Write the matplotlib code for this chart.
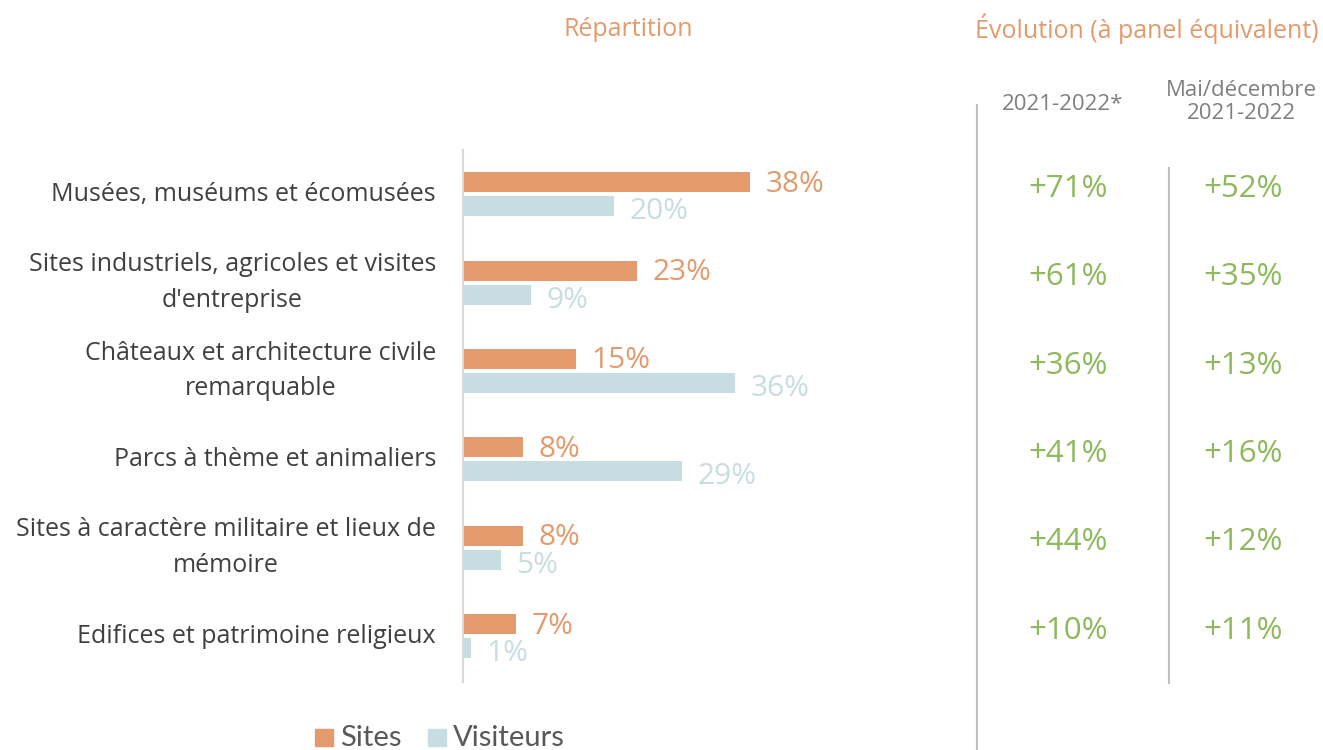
import matplotlib
matplotlib.use("Agg")
import matplotlib.pyplot as plt
from matplotlib.transforms import blended_transform_factory
from matplotlib.patches import Rectangle

categories = [
    "Musées, muséums et écomusées",
    "Sites industriels, agricoles et visites\nd'entreprise",
    "Châteaux et architecture civile\nremarquable",
    "Parcs à thème et animaliers",
    "Sites à caractère militaire et lieux de\nmémoire",
    "Edifices et patrimoine religieux",
]
sites = [38, 23, 15, 8, 8, 7]
visiteurs = [20, 9, 36, 29, 5, 1]
evol_2021_2022 = ["+71%", "+61%", "+36%", "+41%", "+44%", "+10%"]
evol_mai_dec = ["+52%", "+35%", "+13%", "+16%", "+12%", "+11%"]

ORANGE = "#E39A6C"
BLUE = "#C8DDE1"
GREEN = "#8DB95A"
GREY_TXT = "#404040"
GREY_HDR = "#7F7F7F"
LINE = "#BFBFBF"

plt.rcParams['font.family'] = ['Open Sans', 'DejaVu Sans']

W, H = 1323, 750
fig = plt.figure(figsize=(W / 100, H / 100), dpi=100)

def fx(px):
    return px / W

def fy(py):
    return 1 - py / H

ax = fig.add_axes([fx(463), fy(682), fx(960 - 463), (682 - 150) / H])
n = len(categories)
ypos = list(range(n))
bh = 0.226
off = 0.136
ax.barh([y - off for y in ypos], sites, height=bh, color=ORANGE, zorder=2)
ax.barh([y + off for y in ypos], visiteurs, height=bh, color=BLUE, zorder=2)
ax.set_xlim(0, 65.8)
ax.set_ylim(5.52, -0.5)

for y, v in zip(ypos, sites):
    ax.annotate(f"{v}%", (v, y - off), xytext=(11, -1.5), textcoords="offset points",
                ha="left", va="center", color=ORANGE, fontsize=21.5)
for y, v in zip(ypos, visiteurs):
    ax.annotate(f"{v}%", (v, y + off), xytext=(11, -4), textcoords="offset points",
                ha="left", va="center", color=BLUE, fontsize=21.5)

# Category labels
ax.set_yticks(ypos)
ax.set_yticklabels([])
ax.tick_params(axis="y", length=0)
for y, c in zip(ypos, categories):
    ax.annotate(c, (0, y), xytext=(-19.5, 0), textcoords="offset points",
                ha="right", va="center", multialignment="center", linespacing=1.55,
                fontsize=18, color=GREY_TXT, annotation_clip=False)
ax.set_xticks([])
for s in ["top", "right", "bottom"]:
    ax.spines[s].set_visible(False)
ax.spines["left"].set_color("#D9D9D9")
ax.spines["left"].set_linewidth(1.5)

# Titles
fig.text(fx(628), fy(29), "Répartition", ha="center", va="center", color=ORANGE, fontsize=18)
fig.text(fx(1147), fy(29), "Évolution (à panel équivalent)", ha="center", va="center",
         color=ORANGE, fontsize=18)
fig.text(fx(1063), fy(104), "2021-2022*", ha="center", va="center", color=GREY_HDR, fontsize=16)
fig.text(fx(1241), fy(102), "Mai/décembre\n2021-2022", ha="center", va="center",
         color=GREY_HDR, fontsize=16, linespacing=1.1)

# Evolution columns
tr = blended_transform_factory(fig.transFigure, ax.transData)
for y, a, b in zip(ypos, evol_2021_2022, evol_mai_dec):
    fig.text(fx(1068), y - 0.06, a, transform=tr, ha="center", va="center", color=GREEN, fontsize=22.5)
    fig.text(fx(1243), y - 0.06, b, transform=tr, ha="center", va="center", color=GREEN, fontsize=22.5)

# Separator lines
fig.add_artist(plt.Line2D([fx(977), fx(977)], [fy(105), fy(750)], color=LINE, lw=1.5))
fig.add_artist(plt.Line2D([fx(1169), fx(1169)], [fy(168), fy(683)], color=LINE, lw=1.5))

# Legend
fig.add_artist(Rectangle((fx(315), fy(746)), fx(18), 17 / H, color=ORANGE, transform=fig.transFigure))
fig.text(fx(340), fy(738), "Sites", ha="left", va="center", color="#595959", fontsize=21,
         family=['Lato', 'DejaVu Sans'])
fig.add_artist(Rectangle((fx(428), fy(746)), fx(18), 17 / H, color=BLUE, transform=fig.transFigure))
fig.text(fx(453), fy(738), "Visiteurs", ha="left", va="center", color="#595959", fontsize=21,
         family=['Lato', 'DejaVu Sans'])

fig.savefig("out.png", dpi=100)
